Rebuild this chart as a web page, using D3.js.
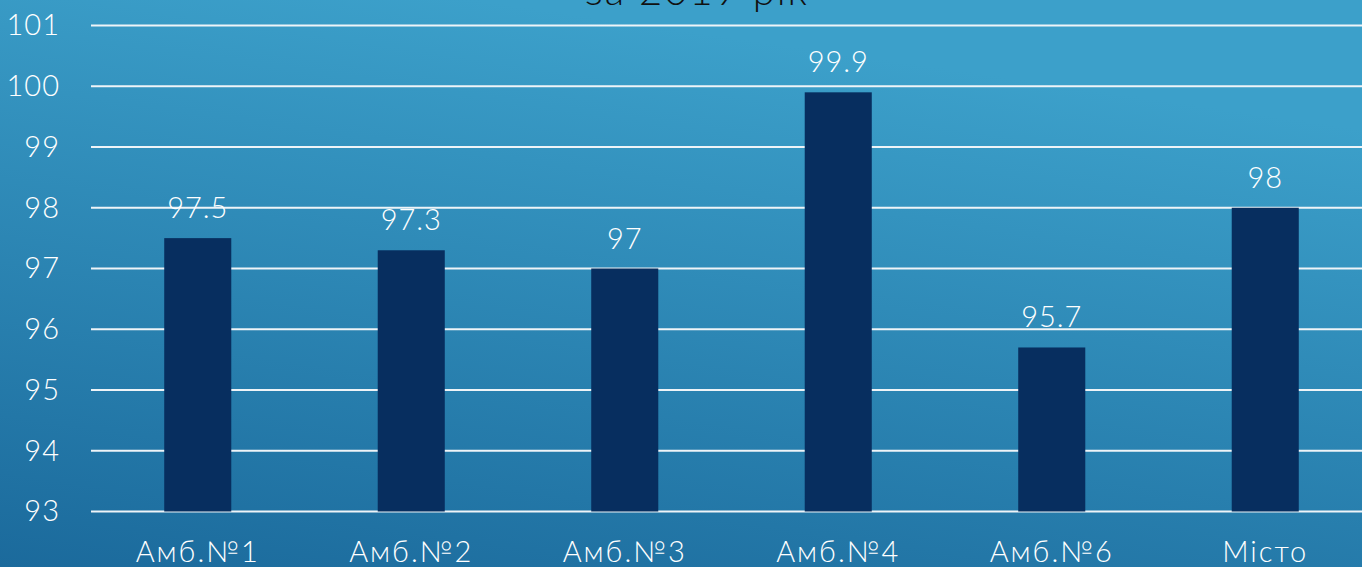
<!DOCTYPE html>
<html>
<head>
<meta charset="utf-8">
<script src="https://cdn.jsdelivr.net/npm/d3@7"></script>
<style>
  html, body { margin: 0; padding: 0; overflow: hidden; }
  svg { display: block; }
  text { font-family: Lato, "Noto Sans", sans-serif; font-weight: 300; }
</style>
</head>
<body>
<svg id="chart" width="1362" height="567"></svg>
<script>
// data
const categories = ["Амб.№1", "Амб.№2", "Амб.№3", "Амб.№4", "Амб.№6", "Місто"];
const values = [97.5, 97.3, 97, 99.9, 95.7, 98];
const yTicks = [93, 94, 95, 96, 97, 98, 99, 100, 101];
const titleText = "за 2019 рік";

// layout
const svg = d3.select("#chart");
const width = +svg.attr("width");
const height = +svg.attr("height");

const plot = { left: 91, right: 1372, top: 25.5, bottom: 511.5 };

// background gradient
const defs = svg.append("defs");
const grad = defs.append("linearGradient")
    .attr("id", "bg")
    .attr("x1", "0").attr("y1", "1")
    .attr("x2", "0.35").attr("y2", "0");
grad.append("stop").attr("offset", "0%").attr("stop-color", "#1b6a9c");
grad.append("stop").attr("offset", "100%").attr("stop-color", "#3ca0ca");

svg.append("rect")
    .attr("width", width)
    .attr("height", height)
    .attr("fill", "url(#bg)");

// scales
const x = d3.scaleBand()
    .domain(categories)
    .range([plot.left, plot.right])
    .padding(0);

const y = d3.scaleLinear()
    .domain([93, 101])
    .range([plot.bottom, plot.top]);

const barW = x.bandwidth() * 0.314;

// gridlines
svg.append("g")
    .selectAll("line")
    .data(yTicks)
    .join("line")
    .attr("x1", plot.left)
    .attr("x2", width)
    .attr("y1", d => y(d))
    .attr("y2", d => y(d))
    .attr("stroke", "#eef4f8")
    .attr("stroke-width", 2);

// y axis labels
const yAxis = svg.append("g")
    .attr("transform", `translate(${plot.left},0)`)
    .call(d3.axisLeft(y).tickValues(yTicks).tickSize(0).tickPadding(31));
yAxis.select(".domain").remove();
yAxis.selectAll("text")
    .attr("fill", "#ffffff")
    .style("font-family", "Lato, 'Noto Sans', sans-serif")
    .style("font-weight", "300")
    .style("letter-spacing", "1px")
    .style("font-size", "29px");

// x axis labels
const xAxis = svg.append("g")
    .attr("transform", `translate(0,${plot.bottom})`)
    .call(d3.axisBottom(x).tickSize(0).tickPadding(30));
xAxis.select(".domain").remove();
xAxis.selectAll("text")
    .attr("fill", "#ffffff")
    .style("font-family", "Lato, 'Noto Sans', sans-serif")
    .style("font-weight", "300")
    .style("letter-spacing", "2px")
    .style("font-size", "29px");

// bars
svg.append("g")
    .selectAll("rect")
    .data(categories)
    .join("rect")
    .attr("x", (d) => x(d) + x.bandwidth() / 2 - barW / 2)
    .attr("width", barW)
    .attr("y", (d, i) => y(values[i]))
    .attr("height", (d, i) => plot.bottom - y(values[i]))
    .attr("fill", "#072e5f");

// value labels
svg.append("g")
    .selectAll("text")
    .data(categories)
    .join("text")
    .attr("x", d => x(d) + x.bandwidth() / 2)
    .attr("y", (d, i) => y(values[i]) - 20)
    .attr("text-anchor", "middle")
    .attr("fill", "#ffffff")
    .style("letter-spacing", "1px")
    .style("font-size", "29px")
    .text((d, i) => values[i]);

// title (cut off at top, as in the source slide)
svg.append("text")
    .attr("x", 697)
    .attr("y", 5)
    .attr("text-anchor", "middle")
    .attr("fill", "#111111")
    .style("letter-spacing", "2px")
    .style("font-size", "40px")
    .text(titleText);
</script>
</body>
</html>
